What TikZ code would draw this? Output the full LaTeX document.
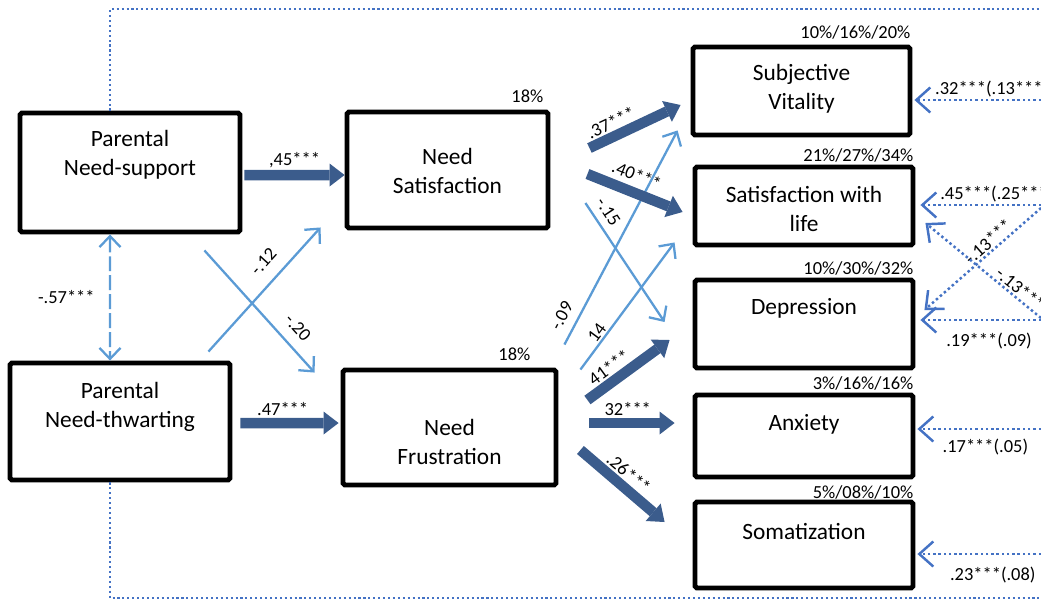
\documentclass[tikz,border=0pt]{standalone}
\usepackage{fontspec}
\setmainfont{Carlito}
\usetikzlibrary{arrows.meta}
\definecolor{pathdark}{RGB}{59,92,140}
\definecolor{pathlight}{RGB}{91,155,213}
\definecolor{pathdot}{RGB}{68,114,196}
\tikzset{block/.style={draw, line width=2.8pt, rounded corners=1pt}}
\tikzset{blocktext/.style={align=center, font=\fontsize{13.3}{16.5}\selectfont}}
\tikzset{coef/.style={font=\fontsize{10.5}{12}\selectfont, inner sep=1pt}}
\tikzset{strong/.style={draw=pathdark, line width=0.21cm, -{Triangle[length=0.3cm,width=0.46cm,line width=0pt]}}}
\tikzset{weak/.style={draw=pathlight, line width=1.3pt, -{Straight Barb[length=0.22cm,width=0.42cm]}}}
\tikzset{resid/.style={draw=pathdot, line width=1.4pt, dash pattern=on 1.4pt off 1.6pt, -{Straight Barb[length=0.28cm,width=0.5cm]}}}
\tikzset{frame/.style={draw=pathdot, line width=1.2pt, dash pattern=on 1.2pt off 1.6pt}}
\begin{document}
\begin{tikzpicture}[x=0.02cm,y=-0.02cm]
\useasboundingbox (0,0) rectangle (1041,603);
\clip (0,0) rectangle (1041,603);

%parents
\node[block,minimum width=4.4cm,minimum height=2.38cm] (psup) at (130,172.5) { };
\node[blocktext] (psuptext) at (130,155) {Parental\\Need-support};
\node[block,minimum width=4.4cm,minimum height=2.34cm] (pthw) at (120,421.5) { };
\node[blocktext] (pthwtext) at (120,407) {Parental\\Need-thwarting};

%needs
\node[block,minimum width=4.02cm,minimum height=2.32cm] (nsat) at (447.5,170) { };
\node[blocktext] (nsattext) at (447.5,171) {Need\\Satisfaction};
\draw ([xshift=-0.1cm]nsat.north east) node[coef,above left,yshift=3pt] (nsatpct) {18\%};
\node[block,minimum width=4.26cm,minimum height=2.3cm] (nfru) at (449.5,427.5) { };
\node[blocktext] (nfrutext) at (449.5,442) {Need\\Frustration};
\draw ([xshift=-0.52cm]nfru.north east) node[coef,above left,yshift=3pt] (nfrupct) {18\%};

%outcomes
\node[block,minimum width=4.34cm,minimum height=1.76cm] (vit) at (801.5,91) { };
\node[blocktext] (vittext) at (801.5,89) {Subjective\\Vitality};
\draw (vit.north east) node[coef,above left,yshift=2pt] (vitpct) {10\%/16\%/20\%};
\node[block,minimum width=4.36cm,minimum height=1.56cm] (swl) at (804,206) { };
\node[blocktext] (swltext) at (804,209) {Satisfaction with\\life};
\draw (swl.north east) node[coef,above left] (swlpct) {21\%/27\%/34\%};
\node[block,minimum width=4.36cm,minimum height=1.76cm] (dep) at (804,324) { };
\node[blocktext] (deptext) at (804,308) {Depression};
\draw (dep.north east) node[coef,above left] (deppct) {10\%/30\%/32\%};
\node[block,minimum width=4.36cm,minimum height=1.64cm] (anx) at (804,436) { };
\node[blocktext] (anxtext) at (804,424) {Anxiety};
\draw (anx.north east) node[coef,above left] (anxpct) {3\%/16\%/16\%};
\node[block,minimum width=4.36cm,minimum height=1.72cm] (som) at (804,545) { };
\node[blocktext] (somtext) at (804,531) {Somatization};
\draw (som.north east) node[coef,above left,yshift=-1pt] (sompct) {5\%/08\%/10\%};

%frame
\coordinate (frtop) at (1041,9);
\coordinate (frbot) at (1041,598);
\draw[frame] ([xshift=-0.4cm]psup.north) |- (frtop);
\draw[frame] ([xshift=-0.2cm]pthw.south) |- (frbot);

%parents -> needs
\path[weak,{Straight Barb[length=0.22cm,width=0.42cm]}-{Straight Barb[length=0.22cm,width=0.42cm]},dash pattern=on 0.3cm off 0.08cm] ([xshift=-0.4cm]psup.south) -- node[coef,left=0.25cm] (c57) {-.57***} ([xshift=-0.2cm]pthw.north);
\path[strong] ([shift={(2,2.5)}]psup.east) -- node[coef,above] (c45) {,45***} ([shift={(0,5)}]nsat.west);
\path[strong] ([shift={(8,1.5)}]pthw.east) -- node[coef,above,pos=0.43] (c47) {.47***} ([shift={(-2,-4.5)}]nfru.west);
\path[weak] ([shift={(-38,16)}]psup.south east) -- node[coef,sloped,above=5pt,pos=0.73] (c20) {-.20} ([shift={(-26,5)}]nfru.north west);
\path[weak] ([shift={(-24,-9)}]pthw.north east) -- node[coef,sloped,above=6pt,pos=0.62] (c12) {-.12} ([shift={(-24,-3)}]nsat.south west);

%needs -> outcomes
\path[weak] ([shift={(35,33)}]nsat.east) -- node[coef,sloped,above=3pt,pos=0.14] (c15) {-.15} ([shift={(-28,-2)}]dep.west);
\path[weak] ([shift={(6,-23)}]nfru.north east) -- node[coef,sloped,above=4pt,pos=0.1] (c09) {-.09} ([shift={(-13,-7)}]vit.south west);
\path[weak] ([shift={(22,2)}]nfru.north east) -- node[coef,sloped,above,pos=0.25] (c14) {14} ([shift={(-18,-5)}]swl.south west);
\path[strong] ([shift={(39,-22)}]nsat.east) -- node[coef,sloped,above,pos=0.3] (c37) {.37***} ([shift={(-10,14)}]vit.west);
\path[strong] ([shift={(37,4)}]nsat.east) -- node[coef,sloped,above=2pt,pos=0.45] (c40) {.40***} ([shift={(-10,6)}]swl.west);
\path[strong] ([shift={(29,-27.5)}]nfru.east) -- node[coef,sloped,above,pos=0.36] (c41) {41***} ([shift={(-23,16)}]dep.west);
\path[strong] ([shift={(31,-4.5)}]nfru.east) -- node[coef,above,pos=0.45] (c32) {32***} ([shift={(-18,-13)}]anx.west);
\path[strong] ([shift={(22,22.5)}]nfru.east) -- node[coef,sloped,above,pos=0.47] (c26) {.26***} ([shift={(-28,-23)}]som.west);

%residual paths
\coordinate (evit) at (1041,100);
\coordinate (eswl) at (1041,205);
\coordinate (edep) at (1041,320);
\coordinate (ecra) at (1041,208);
\coordinate (ecrb) at (1041,318);
\coordinate (eanx) at (1041,429);
\coordinate (esom) at (1041,554);
\path[resid] (evit) -- node[coef,pos=0.86,anchor=south west] (r32) {.32***(.13***)} ([shift={(2,9)}]vit.east);
\path[resid] (eswl) -- node[coef,pos=0.86,anchor=south west] (r45) {.45***(.25***} ([shift={(5,-1)}]swl.east);
\path[resid] (edep) -- node[coef,pos=0.81,anchor=north west,yshift=-0.2cm] (r19) {.19***(.09)} ([shift={(5,-4)}]dep.east);
\path[resid] (ecra) -- node[coef,sloped,above,pos=0.4] (r13a) {-.13***} ([shift={(9,-14)}]dep.east);
\path[resid] (ecrb) -- node[coef,sloped,above,pos=0.23] (r13b) {-.13***} ([shift={(10,17)}]swl.east);
\path[resid] (eanx) -- node[coef,pos=0.82,anchor=north west,yshift=-0.15cm] (r17) {.17***(.05)} ([shift={(2,-7)}]anx.east);
\path[resid] (esom) -- node[coef,pos=0.76,anchor=north west,yshift=-0.2cm] (r23) {.23***(.08)} ([shift={(2,9)}]som.east);

\end{tikzpicture}
\end{document}
